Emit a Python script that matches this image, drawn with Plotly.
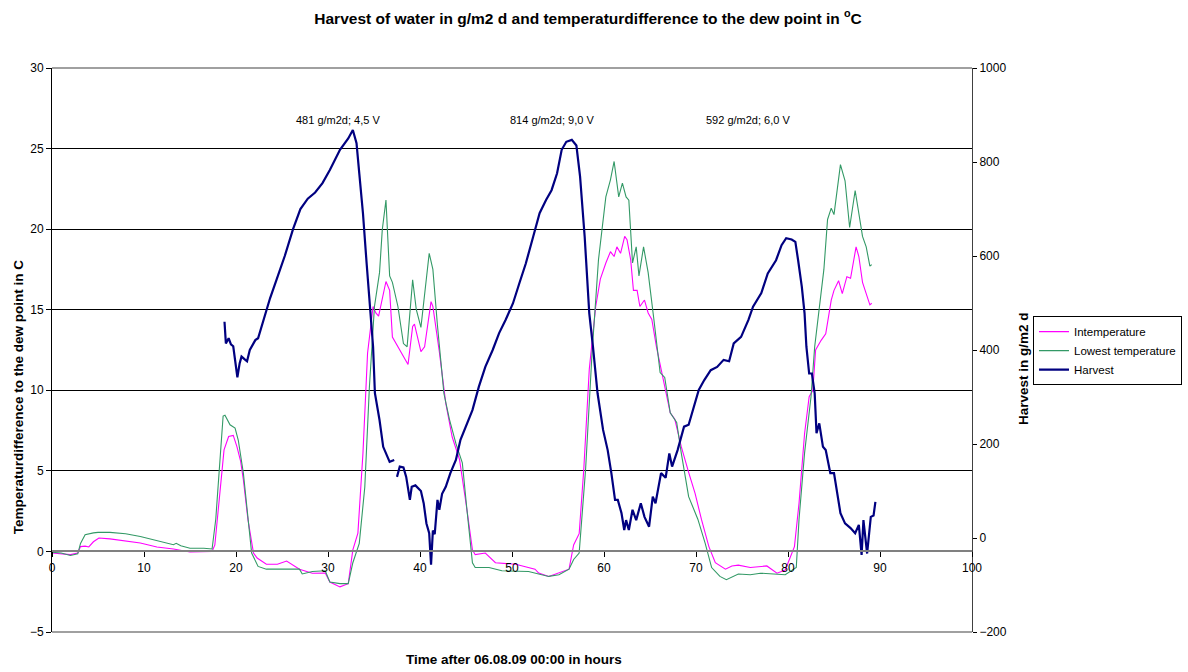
import plotly.graph_objects as go

# Intemperature: temperature difference to the dew point (°C)
intemp_hours = [0.0, 1.0, 2.0, 2.8, 3.1, 3.6, 4.0, 4.5, 5.1, 6.3, 8.0, 9.6, 11.4, 13.2, 15.0, 16.5, 17.4,
                17.7, 18.2, 18.7, 19.2, 19.7, 20.1, 20.5, 20.8, 21.3, 21.9, 22.3, 23.3, 24.5, 25.5, 26.2,
                26.9, 28.3, 29.7, 30.2, 31.3, 32.2, 32.7, 33.25, 33.8, 34.3, 34.9, 35.2, 35.5, 36.3, 36.7,
                37.0, 37.8, 38.7, 39.2, 39.4, 40.1, 40.5, 41.2, 41.4, 42.1, 42.8, 43.5, 44.3, 45.0, 45.7,
                46.0, 47.1, 48.2, 50.4, 52.5, 52.9, 54.0, 55.1, 56.2, 56.7, 57.3, 57.8, 58.4, 59.1, 59.6,
                60.2, 60.7, 61.1, 61.4, 61.8, 62.25, 62.5, 62.9, 63.2, 63.6, 63.9, 64.4, 64.8, 65.2, 65.7,
                66.3, 66.8, 67.2, 67.7, 68.4, 69.2, 69.9, 70.6, 71.4, 72.1, 73.2, 73.9, 74.6, 75.9, 77.7,
                78.8, 79.7, 80.7, 81.2, 81.8, 82.3, 82.7, 83.0, 83.6, 84.1, 84.7, 85.0, 85.5, 85.9, 86.4,
                86.8, 87.4, 87.7, 88.1, 88.5, 88.9, 89.1]
intemp = [-0.1, -0.15, -0.2, -0.1, 0.3, 0.33, 0.28, 0.6, 0.83, 0.78, 0.65, 0.52, 0.27, 0.15, -0.04, 0.0, 0.0,
          0.4, 3.5, 6.3, 7.13, 7.2, 6.5, 5.6, 4.45, 1.97, -0.1, -0.41, -0.8, -0.8, -0.6, -0.85,
          -1.1, -1.35, -1.34, -1.9, -2.2, -2.0, 0.1, 1.14, 6.1, 12.3, 15.2, 14.8, 14.6, 16.75, 16.2,
          13.3, 12.5, 11.6, 13.96, 14.1, 12.4, 12.7, 15.5, 15.2, 12.4, 9.2, 7.1, 5.7, 3.0, 0.1,
          -0.2, -0.1, -0.7, -0.8, -1.1, -1.34, -1.55, -1.34, -1.1, 0.4, 1.1, 5.07, 11.3, 15.2, 16.9,
          17.9, 18.6, 18.3, 18.9, 18.5, 19.55, 19.35, 18.1, 16.2, 16.2, 15.2, 15.6, 14.8, 14.4, 12.7,
          11.07, 9.6, 8.6, 8.2, 6.5, 4.9, 3.6, 1.97, 0.3, -0.7, -1.1, -0.9, -0.85, -1.0, -0.9,
          -1.35, -1.15, 0.3, 3.0, 7.3, 9.6, 10.0, 12.5, 13.1, 13.5, 15.6, 16.2, 16.8, 16.0, 17.05,
          16.95, 18.9, 18.3, 16.7, 16.0, 15.3, 15.4]

# Lowest temperature: temperature difference to the dew point (°C)
lowest_hours = [0.0, 1.0, 2.0, 2.8, 3.1, 3.6, 4.5, 5.0, 6.3, 8.0, 9.6, 11.4, 13.2, 13.5, 14.0, 15.0, 16.5,
                17.4, 17.8, 18.3, 18.6, 18.8, 19.35, 19.9, 20.25, 20.8, 21.3, 21.7, 22.4, 23.3, 26.9, 27.2,
                28.3, 29.7, 30.2, 31.3, 32.2, 32.7, 33.4, 34.0, 34.5, 35.05, 35.6, 35.9, 36.3, 36.7, 37.0,
                37.6, 38.2, 38.6, 39.2, 39.6, 40.1, 40.7, 41.0, 41.4, 41.9, 42.6, 43.2, 43.9, 44.6, 45.1,
                45.7, 46.0, 47.5, 48.9, 51.8, 54.0, 55.1, 56.2, 56.7, 57.3, 58.0, 58.7, 59.4, 60.2, 60.7,
                61.1, 61.6, 62.0, 62.4, 62.7, 63.1, 63.5, 63.8, 64.3, 64.8, 65.4, 66.1, 66.6, 67.2, 67.9,
                68.4, 69.2, 70.2, 71.0, 71.7, 72.6, 73.3, 74.6, 75.9, 77.0, 78.1, 79.7, 80.9, 81.2, 81.8,
                82.5, 82.9, 83.4, 83.9, 84.3, 84.7, 85.0, 85.4, 85.7, 86.2, 86.7, 87.3, 87.7, 88.1, 88.5,
                88.9, 89.1]
lowest = [-0.05, -0.1, -0.25, -0.15, 0.5, 1.04, 1.15, 1.18, 1.18, 1.1, 0.93, 0.68, 0.42, 0.5, 0.35, 0.2, 0.2,
          0.15, 2.0, 6.0, 8.4, 8.45, 7.86, 7.65, 6.9, 4.86, 1.97, -0.1, -0.93, -1.1, -1.1, -1.4,
          -1.25, -1.2, -1.9, -2.0, -2.0, -0.7, 0.5, 4.0, 10.2, 15.2, 17.3, 19.96, 21.8, 17.1, 16.7,
          15.2, 12.9, 12.7, 16.85, 15.0, 13.9, 17.1, 18.5, 17.5, 14.0, 9.8, 8.2, 6.7, 5.5, 2.6,
          -0.7, -1.0, -1.0, -1.2, -1.25, -1.55, -1.45, -1.1, -0.5, -0.1, 5.1, 12.3, 18.1, 22.0, 23.06,
          24.2, 22.0, 22.85, 22.0, 21.8, 17.9, 18.9, 17.1, 18.9, 17.3, 14.5, 11.1, 10.8, 8.6, 8.0,
          6.1, 3.4, 2.0, 0.5, -1.0, -1.55, -1.75, -1.4, -1.45, -1.35, -1.4, -1.45, -1.0, 2.0, 6.1,
          9.6, 12.7, 15.2, 17.5, 20.6, 21.3, 20.9, 22.6, 24.0, 23.0, 20.1, 22.4, 21.0, 19.55, 18.9,
          17.7, 17.8]

# Harvest of water (g/m2 d); None marks a gap in the logged data
harvest_hours = [18.75, 18.9, 19.2, 19.45, 19.7, 20.0, 20.15, 20.4, 20.6, 20.95, 21.2, 21.5, 22.1, 22.4,
                 22.9, 23.7, 24.4, 25.3, 26.2, 27.0, 27.8, 28.6, 29.4, 30.2, 31.3, 32.2, 32.7, 33.1, 33.4,
                 33.8, 34.2, 34.5, 34.9, 35.1, 35.6, 36.0, 36.3, 36.7, 37.2, 37.35, 37.5, 37.8, 38.2, 38.5,
                 38.9, 39.1, 39.5, 40.1, 40.4, 40.7, 41.0, 41.2, 41.4, 41.6, 41.9, 42.1, 42.4, 42.8, 43.3,
                 43.9, 44.4, 45.0, 45.7, 46.4, 47.1, 47.9, 48.6, 49.3, 50.1, 50.8, 51.5, 52.3, 53.0, 53.7,
                 54.3, 54.9, 55.4, 55.9, 56.5, 57.0, 57.4, 57.9, 58.3, 58.4, 58.8, 59.3, 59.9, 60.4, 60.8,
                 61.2, 61.5, 61.9, 62.2, 62.4, 62.7, 63.1, 63.5, 64.0, 64.4, 64.9, 65.3, 65.6, 66.2, 66.7,
                 67.1, 67.4, 68.0, 68.7, 69.2, 69.8, 70.3, 70.9, 71.6, 72.3, 73.0, 73.6, 74.1, 74.9, 75.7,
                 76.2, 77.1, 77.8, 78.7, 79.3, 79.8, 80.4, 80.8, 81.1, 81.5, 81.8, 82.0, 82.3, 82.6, 82.9,
                 83.1, 83.4, 83.8, 84.1, 84.6, 85.0, 85.3, 85.7, 86.2, 86.8, 87.3, 87.7, 88.0, 88.2, 88.6,
                 89.0, 89.3, 89.5]
harvest = [460, 414, 425, 412, 408, 357, 342, 372, 386, 380, 376, 400, 421, 425,
           457, 510, 549, 600, 657, 700, 722, 735, 755, 783, 826, 850, 868, 840, 776,
           691, 584, 506, 407, 308, 251, 194, 180, 162, 166, None, 130, 152, 150, 130,
           81, 109, 112, 100, 74, 31, 10, -57, 16, 8, 81, 60, 94, 109, 138,
           166, 209, 237, 272, 322, 364, 400, 436, 464, 499, 542, 584, 641, 691, 719,
           740, 776, 826, 843, 847, 835, 769, 641, 521, 478, 407, 308, 230, 187, 138,
           81, 81, 53, 17, 38, 17, 60, 38, 74, 45, 24, 88, 74, 138, 128,
           180, 152, 187, 237, 241, 279, 315, 336, 357, 364, 379, 376, 414, 428, 464,
           492, 521, 563, 591, 623, 638, 635, 630, 591, 535, 478, 407, 350, 350, 308,
           223, 244, 194, 187, 138, 138, 102, 53, 31, 21, 10, 28, -36, 38, -33,
           45, 48, 77]

# Run labels placed above each harvest peak
run_labels = ["481 g/m2d; 4,5 V", "814 g/m2d; 9,0 V", "592 g/m2d; 6,0 V"]
run_label_hours = [31.1, 54.3, 75.6]
run_label_level = 26.8

FONT = "Liberation Sans, Arial, sans-serif"

fig = go.Figure()
fig.add_trace(go.Scatter(x=intemp_hours, y=intemp, mode="lines", name="Intemperature",
                         line=dict(color="#FF00FF", width=1.1)))
fig.add_trace(go.Scatter(x=lowest_hours, y=lowest, mode="lines", name="Lowest temperature",
                         line=dict(color="#339966", width=1.1)))
fig.add_trace(go.Scatter(x=harvest_hours, y=harvest, mode="lines", name="Harvest", yaxis="y2",
                         connectgaps=False, line=dict(color="#000080", width=2.2)))

for txt, hx in zip(run_labels, run_label_hours):
    fig.add_annotation(x=hx, y=run_label_level, xref="x", yref="y", text=txt, showarrow=False,
                       font=dict(family=FONT, size=11, color="#000000"))

# axis titles
fig.add_annotation(x=0.502, y=-0.0496, xref="paper", yref="paper", xanchor="center", yanchor="middle",
                   text="<b>Time after 06.08.09 00:00 in hours</b>", showarrow=False,
                   font=dict(family=FONT, size=13.5, color="#000000"))
fig.add_annotation(x=-0.037, y=0.418, xref="paper", yref="paper", textangle=-90,
                   xanchor="center", yanchor="middle",
                   text="<b>Temperaturdifference to the dew point in C</b>", showarrow=False,
                   font=dict(family=FONT, size=13.5, color="#000000"))
fig.add_annotation(x=1.0554, y=0.468, xref="paper", yref="paper", textangle=-90,
                   xanchor="center", yanchor="middle",
                   text="<b>Harvest in g/m2 d</b>", showarrow=False,
                   font=dict(family=FONT, size=13.5, color="#000000"))

# top and bottom frame lines of the plot area
for py in (0, 1):
    fig.add_shape(type="line", xref="paper", yref="paper", x0=0, x1=1, y0=py, y1=py,
                  line=dict(color="#808080", width=1.5))

fig.update_layout(
    width=1188, height=672,
    margin=dict(l=52, r=216, t=68, b=40, autoexpand=False),
    paper_bgcolor="white", plot_bgcolor="white",
    font=dict(family=FONT, size=12, color="#000000"),
    title=dict(text="<b>Harvest of water in g/m2 d and temperaturdifference to the dew point in <sup>o</sup>C</b>",
               x=0.495, y=0.973, xanchor="center", yanchor="middle",
               font=dict(family=FONT, size=15.5, color="#000000")),
    xaxis=dict(range=[0, 100], dtick=10, tick0=0, anchor="free", position=5 / 35,
               showgrid=False, zeroline=False, showline=True, linecolor="#808080", linewidth=1.5,
               ticks="outside", ticklen=5, tickcolor="#000000",
               tickfont=dict(family=FONT, size=12, color="#000000")),
    yaxis=dict(range=[-5, 30], dtick=5, tick0=0, domain=[0, 1],
               showgrid=True, gridcolor="#000000", gridwidth=1, zeroline=False,
               showline=True, linecolor="#000000", linewidth=1,
               ticks="outside", ticklen=5, tickcolor="#000000",
               tickfont=dict(family=FONT, size=12, color="#000000")),
    yaxis2=dict(range=[-200, 1000], dtick=200, tick0=0, overlaying="y", side="right",
                showgrid=False, zeroline=False, showline=True, linecolor="#404040", linewidth=1,
                ticks="outside", ticklen=4, tickcolor="#000000",
                tickfont=dict(family=FONT, size=12, color="#000000")),
    legend=dict(x=1.0663, y=0.56, xanchor="left", yanchor="top",
                bordercolor="#000000", borderwidth=1, bgcolor="white",
                font=dict(family=FONT, size=11.5, color="#000000"),
                itemwidth=30, tracegroupgap=0),
    showlegend=True,
)

fig.write_html("out.html")
